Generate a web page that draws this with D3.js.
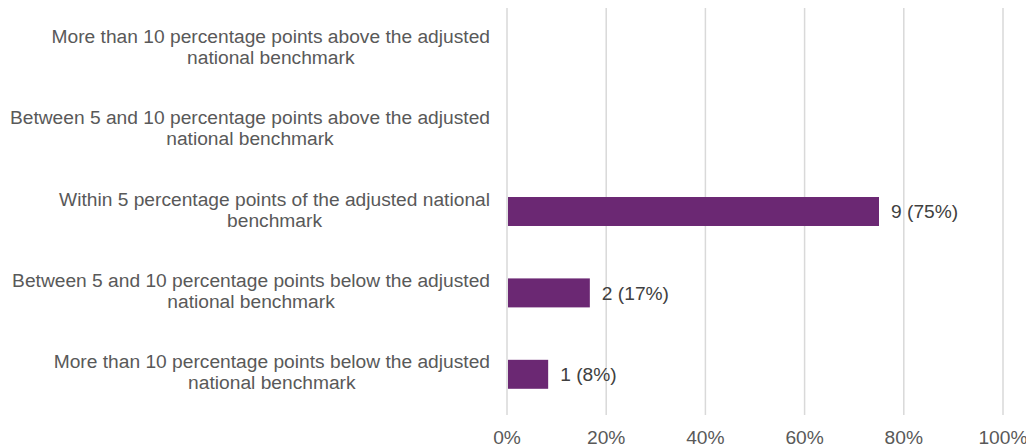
<!DOCTYPE html>
<html lang="en">
<head>
  <meta charset="UTF-8">
  <title>Benchmark comparison</title>
  <script src="https://d3js.org/d3.v7.min.js"></script>
  <style>
    body { margin: 0; background: #fff; }
    svg { display: block; font-family: "Liberation Sans", Arial, sans-serif; }
  </style>
</head>
<body>
  <div id="chart"></div>

  <script>
    // Categories (each split into two lines, as in the reference)
    const categories = [
      ['More than 10 percentage points above the adjusted', 'national benchmark'],
      ['Between 5 and 10 percentage points above the adjusted', 'national benchmark'],
      ['Within 5 percentage points of the adjusted national', 'benchmark'],
      ['Between 5 and 10 percentage points below the adjusted', 'national benchmark'],
      ['More than 10 percentage points below the adjusted', 'national benchmark']
    ];

    // Share of providers (%) and the counts behind them
    const shares = [0, 0, 75, 16.7, 8.3];
    const counts = [0, 0, 9, 2, 1];
    const shareLabels = ['', '', '75%', '17%', '8%'];

    const xTicks = [0, 20, 40, 60, 80, 100];

    const width = 1026, height = 448;
    const margin = { top: 8, right: 23, bottom: 33, left: 507 };
    const fontSize = '19.2px';

    const svg = d3.select('#chart')
      .append('svg')
      .attr('width', width)
      .attr('height', height);

    const x = d3.scaleLinear()
      .domain([0, 100])
      .range([margin.left, width - margin.right]);

    const y = d3.scaleBand()
      .domain(d3.range(categories.length))
      .range([margin.top, height - margin.bottom])
      .paddingInner(0.644)
      .paddingOuter(0.322);

    // Vertical gridlines
    svg.append('g')
      .selectAll('line')
      .data(xTicks)
      .join('line')
      .attr('x1', d => x(d))
      .attr('x2', d => x(d))
      .attr('y1', margin.top)
      .attr('y2', height - margin.bottom)
      .attr('stroke', '#d9d9d9')
      .attr('stroke-width', 1.5);

    // Tick labels
    svg.append('g')
      .selectAll('text')
      .data(xTicks)
      .join('text')
      .attr('x', d => x(d))
      .attr('y', 444)
      .attr('text-anchor', 'middle')
      .attr('fill', '#595959')
      .attr('font-size', fontSize)
      .text(d => d + '%');

    // Bars
    svg.append('g')
      .selectAll('rect')
      .data(shares)
      .join('rect')
      .attr('x', x(0) + 1)
      .attr('y', (d, i) => y(i))
      .attr('width', d => Math.max(0, x(d) - x(0) - 1))
      .attr('height', y.bandwidth())
      .attr('fill', '#6b2873');

    // Value labels (only for non-empty bars)
    const labelled = shares.map((d, i) => ({ v: d, i })).filter(d => d.v > 0);
    svg.append('g')
      .selectAll('text')
      .data(labelled)
      .join('text')
      .attr('x', d => x(d.v) + 12)
      .attr('y', d => y(d.i) + y.bandwidth() / 2)
      .attr('dy', '0.35em')
      .attr('fill', '#404040')
      .attr('font-size', fontSize)
      .text(d => `${counts[d.i]} (${shareLabels[d.i]})`);

    // Category labels: block right-aligned at labelRight, lines centred in the block
    const labelRight = 490;
    const catGroup = svg.append('g');
    categories.forEach((lines, i) => {
      const cy = y(i) + y.bandwidth() / 2;
      const t = catGroup.append('text')
        .attr('text-anchor', 'middle')
        .attr('fill', '#595959')
        .attr('font-size', fontSize);
      const spans = lines.map((line, j) => t.append('tspan')
        .attr('y', cy - 6 + j * 21)
        .text(line));
      const maxW = d3.max(spans, s => s.node().getComputedTextLength());
      spans.forEach(s => s.attr('x', labelRight - maxW / 2));
    });
  </script>
</body>
</html>
